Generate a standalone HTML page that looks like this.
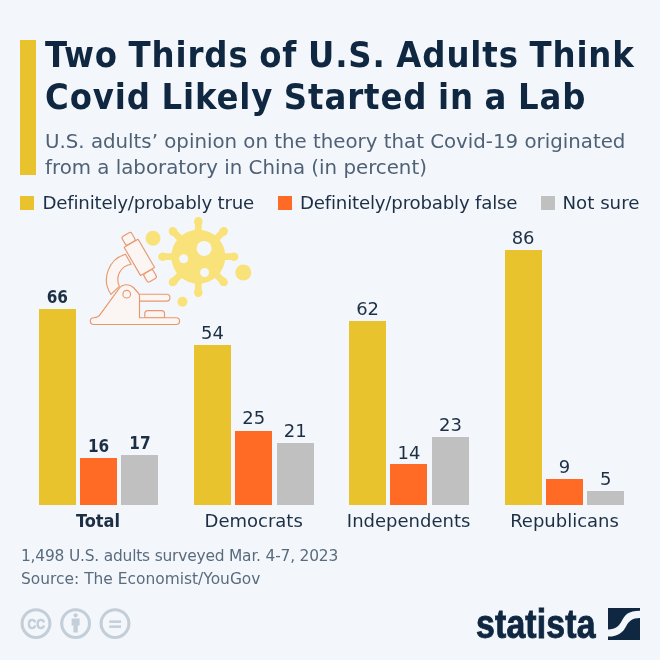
<!DOCTYPE html>
<html lang="en">
<head>
<meta charset="utf-8">
<title>Two Thirds of U.S. Adults Think Covid Likely Started in a Lab</title>
<style>
html,body{margin:0;padding:0;}
body{width:660px;height:660px;overflow:hidden;background:#f3f7fb;font-family:"DejaVu Sans","Liberation Sans",sans-serif;color:#0f2741;position:relative;}
.abs{position:absolute;white-space:nowrap;}
.accent{left:20px;top:40px;width:15.5px;height:135px;background:#e9c32d;}
.title{left:45px;font-family:"DejaVu Sans Condensed","Liberation Sans",sans-serif;font-weight:bold;font-size:36px;line-height:42px;letter-spacing:0.88px;word-spacing:-1.5px;color:#0f2741;}
.sub{left:45px;font-size:19.8px;line-height:26px;color:#4f6176;}
.leg{font-size:18.2px;line-height:22px;color:#1d2f45;top:192.3px;letter-spacing:-0.2px;}
.sq{width:13.8px;height:13.6px;top:196.3px;}
.y{background:#e9c32d;}
.o{background:#ff6b24;}
.g{background:#c0c0c0;}
.bar{position:absolute;width:37.1px;}
.val{position:absolute;width:60px;margin-left:-11.4px;text-align:center;font-size:18px;line-height:22px;color:#1d2f45;}
.b{font-family:"DejaVu Sans Condensed","Liberation Sans",sans-serif;font-weight:bold;}
.cat{position:absolute;width:180px;text-align:center;font-size:18px;line-height:22px;color:#1d2f45;top:510px;}
.foot{left:21px;font-size:15.45px;line-height:22px;color:#5a6b7e;}
</style>
</head>
<body>
<div class="abs accent"></div>
<div class="abs title" style="top:34px;">Two Thirds of U.S. Adults Think</div>
<div class="abs title" style="top:76px;">Covid Likely Started in a Lab</div>
<div class="abs sub" style="top:129px;">U.S. adults’ opinion on the theory that Covid-19 originated</div>
<div class="abs sub" style="top:155px;">from a laboratory in China (in percent)</div>

<div class="abs sq y" style="left:20.4px;"></div>
<div class="abs leg" style="left:42.5px;">Definitely/probably true</div>
<div class="abs sq o" style="left:278.3px;"></div>
<div class="abs leg" style="left:300px;">Definitely/probably false</div>
<div class="abs sq g" style="left:541px;"></div>
<div class="abs leg" style="left:562.5px;letter-spacing:0px;">Not sure</div>

<!-- bars -->
<div class="bar y" style="left:38.7px;top:309px;height:196.3px;"></div>
<div class="bar o" style="left:80px;top:458px;height:47.3px;"></div>
<div class="bar g" style="left:121.3px;top:455.3px;height:50px;"></div>

<div class="bar y" style="left:193.8px;top:345.2px;height:160.1px;"></div>
<div class="bar o" style="left:235.2px;top:431.2px;height:74.1px;"></div>
<div class="bar g" style="left:276.6px;top:443.3px;height:62px;"></div>

<div class="bar y" style="left:349px;top:320.8px;height:184.5px;"></div>
<div class="bar o" style="left:390.4px;top:464.2px;height:41.1px;"></div>
<div class="bar g" style="left:431.8px;top:437.2px;height:68.1px;"></div>

<div class="bar y" style="left:504.5px;top:249.8px;height:255.5px;"></div>
<div class="bar o" style="left:545.8px;top:478.8px;height:26.5px;"></div>
<div class="bar g" style="left:587.1px;top:490.7px;height:14.6px;"></div>

<div class="val b" style="left:38.7px;top:286.3px;font-size:17px;">66</div>
<div class="val b" style="left:80px;top:435.3px;font-size:17px;">16</div>
<div class="val b" style="left:121.3px;top:432.3px;font-size:17px;">17</div>

<div class="val" style="left:193.8px;top:322px;">54</div>
<div class="val" style="left:235.2px;top:407px;">25</div>
<div class="val" style="left:276.6px;top:420px;">21</div>

<div class="val" style="left:349px;top:298px;">62</div>
<div class="val" style="left:390.4px;top:441.5px;">14</div>
<div class="val" style="left:431.8px;top:414px;">23</div>

<div class="val" style="left:504.5px;top:227px;">86</div>
<div class="val" style="left:545.8px;top:456px;">9</div>
<div class="val" style="left:587.1px;top:468px;">5</div>

<div class="cat b" style="left:8px;">Total</div>
<div class="cat" style="left:163.7px;">Democrats</div>
<div class="cat" style="left:318.6px;">Independents</div>
<div class="cat" style="left:474.5px;">Republicans</div>

<div class="abs foot" style="top:544.5px;letter-spacing:-0.2px;">1,498 U.S. adults surveyed Mar. 4-7, 2023</div>
<div class="abs foot" style="top:567.8px;">Source: The Economist/YouGov</div>

<!-- icons: microscope + virus -->
<svg class="abs" style="left:80px;top:215px;" width="180" height="120" viewBox="80 215 180 120">
  <g fill="#f9e27a">
    <circle cx="198.3" cy="256.7" r="27"/>
    <g stroke="#f9e27a" stroke-width="6.8" stroke-linecap="round">
      <line x1="198.3" y1="256.7" x2="198.3" y2="220.5"/>
      <line x1="198.3" y1="256.7" x2="198.3" y2="293.5"/>
      <line x1="198.3" y1="256.7" x2="161.8" y2="256.7"/>
      <line x1="198.3" y1="256.7" x2="234.8" y2="256.7"/>
      <line x1="198.3" y1="256.7" x2="172.3" y2="230.7"/>
      <line x1="198.3" y1="256.7" x2="224.3" y2="230.7"/>
      <line x1="198.3" y1="256.7" x2="172.3" y2="282.7"/>
      <line x1="198.3" y1="256.7" x2="224.3" y2="282.7"/>
    </g>
    <circle cx="198.3" cy="221.5" r="4.3"/><circle cx="198.3" cy="292.5" r="4.3"/>
    <circle cx="162.8" cy="256.7" r="4.3"/><circle cx="233.8" cy="256.7" r="4.3"/>
    <circle cx="173.2" cy="231.6" r="4.3"/><circle cx="223.4" cy="231.6" r="4.3"/>
    <circle cx="173.2" cy="281.8" r="4.3"/><circle cx="223.4" cy="281.8" r="4.3"/>
    <circle cx="153" cy="238.3" r="7.5"/>
    <circle cx="243.3" cy="272.5" r="8"/>
    <circle cx="182.5" cy="301.7" r="5"/>
  </g>
  <g fill="#f3f7fb">
    <circle cx="204.1" cy="248.4" r="7.5"/>
    <circle cx="183.6" cy="258.7" r="4.5"/>
    <circle cx="204.6" cy="272.5" r="4.5"/>
  </g>
  <g fill="#fbf6f3" stroke="#e9986e" stroke-width="1.15" stroke-linejoin="round">
    <!-- arm -->
    <path d="M110.9,294.3 A26.4,26.4 0 0 1 125.5,254.3 L131.1,264.2 A15.6,15.6 0 0 0 119.4,286.4 Z"/>
    <!-- tube group -->
    <g transform="translate(139.35 257.4) rotate(-30.2)">
      <rect x="-5.5" y="-26.4" width="11" height="9.8" rx="2"/>
      <rect x="-5.3" y="16.6" width="10.6" height="9.6" rx="2"/>
      <rect x="-8.1" y="-16.4" width="16.2" height="32.8" rx="0.6"/>
    </g>
    <!-- stage -->
    <rect x="136" y="294.2" width="33.9" height="6.9" rx="3.3"/>
    <path d="M144.8,317.7 L144.8,313.6 Q144.8,310.6 147.8,310.6 L161.5,310.6 Q164.5,310.6 164.5,313.6 L164.5,317.7 Z"/>
    <!-- body + base -->
    <path d="M176.2,317.7 A3.4,3.4 0 0 1 176.2,324.5 L93.7,324.5 A3.4,3.4 0 0 1 93.7,317.7 Q98.2,317.7 100.8,313.6 L118.8,288.9 A9.5,9.5 0 0 1 133.4,287.5 L138.3,293 Q139.5,294.5 139.5,296.5 L139.5,317.7 Z"/>
    <circle cx="126.7" cy="294.2" r="3.8"/>
  </g>
</svg>

<!-- cc icons -->
<svg class="abs" style="left:15px;top:603px;" width="125" height="42" viewBox="15 603 125 42">
  <g fill="none" stroke="#c4ced8" stroke-width="3.1">
    <circle cx="36" cy="623.6" r="13.9"/>
    <circle cx="75.6" cy="623.6" r="13.9"/>
    <circle cx="115" cy="623.6" r="13.9"/>
  </g>
  <text x="27.4" y="629" font-family="Liberation Sans, sans-serif" font-weight="bold" font-size="15.2" fill="#c4ced8" stroke="#c4ced8" stroke-width="0.7" textLength="17.6" lengthAdjust="spacingAndGlyphs">CC</text>
  <g fill="#c4ced8">
    <circle cx="75.6" cy="615.3" r="2.1"/>
    <path d="M71.6,618.6 h8 v7 h-1.8 v7 h-4.4 v-7 h-1.8 z"/>
    <rect x="109.3" y="620.4" width="11.8" height="2.5"/>
    <rect x="109.3" y="625.4" width="11.8" height="2.5"/>
  </g>
</svg>

<!-- statista logo -->
<div class="abs" style="left:476.3px;top:601px;font-family:'Liberation Sans',sans-serif;font-weight:bold;font-size:40px;line-height:46px;color:#0f2741;transform-origin:0 0;transform:scaleX(0.845);letter-spacing:0.2px;-webkit-text-stroke:0.9px #0f2741;">statista</div>
<svg class="abs" style="left:607.7px;top:607.5px;" width="32" height="32" viewBox="0 0 32 32">
  <rect width="32" height="32" fill="#0f2741"/>
  <path d="M0,21.4 C8,21.4 11,18 14,12.5 C17,7 20,2.7 32,2.7 L32,10 C24,10 21,13 18,18.5 C15,24 11,28.6 0,28.6 Z" fill="#f3f7fb"/>
</svg>
</body>
</html>
